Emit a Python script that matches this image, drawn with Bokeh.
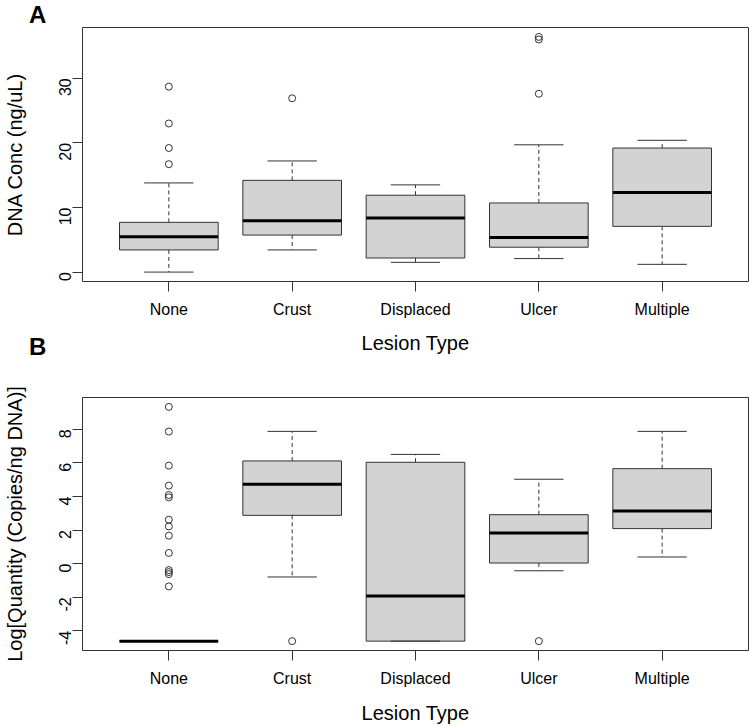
import math
from bokeh.plotting import figure
from bokeh.layouts import column
from bokeh.models import FixedTicker, Range1d, Div
from bokeh.embed import file_html
from bokeh.resources import INLINE

categories = ["None", "Crust", "Displaced", "Ulcer", "Multiple"]

# Panel A: DNA concentration (ng/uL) box statistics
a_low = [0.0, 3.43, 1.51, 2.09, 1.2]
a_q1 = [3.43, 5.73, 2.18, 3.85, 7.08]
a_med = [5.46, 7.96, 8.38, 5.36, 12.3]
a_q3 = [7.7, 14.2, 11.9, 10.7, 19.2]
a_high = [13.8, 17.2, 13.5, 19.7, 20.4]
a_outliers = [[28.7, 23.0, 19.2, 16.7], [26.9], [], [36.0, 36.4, 27.6], []]
a_ticks = [0, 10, 20, 30]

# Panel B: Log[Quantity (Copies/ng DNA)] box statistics
b_low = [-4.61, -0.79, -4.61, -0.42, 0.40]
b_q1 = [-4.61, 2.88, -4.61, 0.04, 2.09]
b_med = [-4.61, 4.73, -1.93, 1.83, 3.14]
b_q3 = [-4.61, 6.12, 6.04, 2.92, 5.66]
b_high = [-4.61, 7.88, 6.51, 5.03, 7.88]
b_outliers = [[9.34, 7.87, 5.84, 4.65, 4.09, 3.95, 2.62, 2.22, 1.67, 0.64,
               -0.38, -0.50, -0.62, -1.35], [-4.61], [], [-4.61], []]
b_ticks = [-4, -2, 0, 2, 4, 6, 8]

FONT = "Liberation Sans"
LINE = "#333333"
A_HEIGHT = 357


def make_panel(low, q1, med, q3, high, outliers, ticks, ylabel,
               top, bottom, height, lab_standoff):
    n = len(categories)
    xs = list(range(1, n + 1))
    vals = low + high + [v for o in outliers for v in o]
    lo, hi = min(vals), max(vals)
    ext = 0.04 * (hi - lo)
    xext = 0.04 * n
    p = figure(width=750, height=height, output_backend="svg", toolbar_location=None,
               x_range=Range1d(0.5 - xext, n + 0.5 + xext),
               y_range=Range1d(lo - ext, hi + ext),
               min_border_left=77, min_border_right=2,
               min_border_top=top, min_border_bottom=bottom)
    p.grid.visible = False
    p.outline_line_color = LINE
    p.outline_line_width = 1
    p.background_fill_color = "white"

    w = 0.4
    p.quad(left=[x - w for x in xs], right=[x + w for x in xs], bottom=q1, top=q3,
           fill_color="#D3D3D3", line_color=LINE, line_width=1)
    # whiskers
    p.segment(x0=xs, y0=q3, x1=xs, y1=high, line_color=LINE, line_dash="4 3", line_width=1)
    p.segment(x0=xs, y0=q1, x1=xs, y1=low, line_color=LINE, line_dash="4 3", line_width=1)
    # staples
    p.segment(x0=[x - w / 2 for x in xs], y0=high, x1=[x + w / 2 for x in xs], y1=high,
              line_color=LINE, line_width=1)
    p.segment(x0=[x - w / 2 for x in xs], y0=low, x1=[x + w / 2 for x in xs], y1=low,
              line_color=LINE, line_width=1)
    # medians
    p.segment(x0=[x - w for x in xs], y0=med, x1=[x + w for x in xs], y1=med,
              line_color="black", line_width=3)
    # outliers
    ox = [xs[i] for i, o in enumerate(outliers) for _ in o]
    oy = [v for o in outliers for v in o]
    p.scatter(ox, oy, marker="circle", size=7, fill_color=None, line_color=LINE, line_width=1)

    p.xaxis.ticker = FixedTicker(ticks=xs)
    p.xaxis.major_label_overrides = {x: c for x, c in zip(xs, categories)}
    p.yaxis.ticker = FixedTicker(ticks=ticks)
    p.yaxis.major_label_overrides = {t: str(t) for t in ticks}
    for ax in (p.xaxis, p.yaxis):
        ax.axis_line_color = None
        ax.major_tick_line_color = LINE
        ax.major_tick_out = 10
        ax.major_tick_in = 0
        ax.minor_tick_line_color = None
        ax.major_label_text_font = FONT
        ax.major_label_text_font_size = "16px"
        ax.major_label_text_color = "black"
        ax.axis_label_text_font = FONT
        ax.axis_label_text_font_size = "20px"
        ax.axis_label_text_font_style = "normal"
        ax.axis_label_text_color = "black"
    p.xaxis.axis_label = "Lesion Type"
    p.xaxis.major_label_standoff = 9
    p.xaxis.axis_label_standoff = lab_standoff
    p.yaxis.axis_label = ylabel
    p.yaxis.major_label_orientation = math.pi / 2
    p.yaxis.major_label_standoff = 7
    p.yaxis.axis_label_standoff = 25
    return p


def letter(text, margin):
    return Div(text=text, width=40, height=30, margin=margin,
               styles={"font-family": FONT, "font-weight": "bold", "font-size": "24px",
                       "line-height": "30px", "color": "black"})


pa = make_panel(a_low, a_q1, a_med, a_q3, a_high, a_outliers, a_ticks,
                "DNA Conc (ng/uL)", 27, 76, A_HEIGHT, 11)
pb = make_panel(b_low, b_q1, b_med, b_q3, b_high, b_outliers, b_ticks,
                "Log[Quantity (Copies/ng DNA)]", 40, 77, 370, 12)

# panel letters drawn on top of the figures, occupying no layout height
div_a = letter("A", (-A_HEIGHT, 0, A_HEIGHT - 30, 29))
div_b = letter("B", (-25, 0, -5, 29))

layout = column(pa, div_a, div_b, pb, spacing=0)
open("out.html", "w").write(file_html(layout, INLINE))
